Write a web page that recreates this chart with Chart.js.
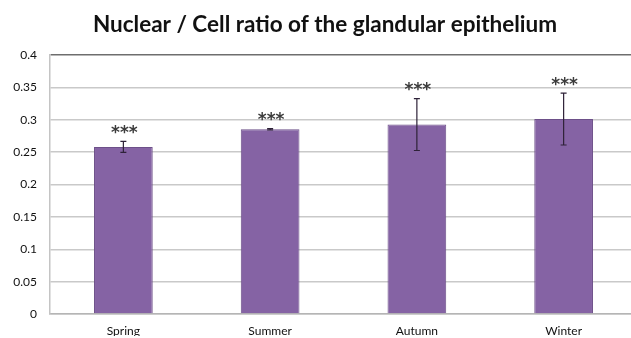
<!DOCTYPE html>
<html>
<head>
<meta charset="utf-8">
<script src="https://cdn.jsdelivr.net/npm/chart.js@4/dist/chart.umd.min.js"></script>
<style>
  html, body { margin: 0; padding: 0; background: #fff; overflow: hidden; }
  #wrap { position: relative; width: 658px; height: 338px; }
</style>
</head>
<body>
<div id="wrap"><canvas id="c" width="658" height="338"></canvas></div>
<script>
// Seasons and the mean nuclear/cell ratio with its error
const seasons = ['Spring', 'Summer', 'Autumn', 'Winter'];
const ratio = [0.258, 0.2855, 0.2925, 0.301];
const ratioErr = [0.0085, 0.001, 0.040, 0.040];
const significance = ['***', '***', '***', '***'];
const yTicks = [0, 0.05, 0.1, 0.15, 0.2, 0.25, 0.3, 0.35, 0.4];

// Error bars with caps, drawn on the value scale
const errorBars = {
  id: 'errorBars',
  afterDatasetsDraw(chart) {
    const { ctx, scales: { y } } = chart;
    const meta = chart.getDatasetMeta(0);
    ctx.save();
    ctx.strokeStyle = '#2e2238';
    ctx.lineWidth = 1.2;
    meta.data.forEach((bar, i) => {
      const top = y.getPixelForValue(ratio[i] + ratioErr[i]);
      const bot = y.getPixelForValue(ratio[i] - ratioErr[i]);
      const x = bar.x, cap = 3;
      ctx.beginPath();
      ctx.moveTo(x, top); ctx.lineTo(x, bot);
      ctx.moveTo(x - cap, top); ctx.lineTo(x + cap, top);
      ctx.moveTo(x - cap, bot); ctx.lineTo(x + cap, bot);
      ctx.stroke();
    });
    ctx.restore();
  }
};

// Significance markers above each error bar
const sigMarks = {
  id: 'sigMarks',
  afterDatasetsDraw(chart) {
    const { ctx, scales: { y } } = chart;
    const meta = chart.getDatasetMeta(0);
    ctx.save();
    ctx.fillStyle = '#3c3c3c';
    ctx.font = 'bold 17px "DejaVu Sans"';
    ctx.textAlign = 'center';
    ctx.textBaseline = 'middle';
    meta.data.forEach((bar, i) => {
      const top = y.getPixelForValue(ratio[i] + ratioErr[i]);
      ctx.fillText(significance[i], bar.x + 1, top - 8);
    });
    ctx.restore();
  }
};

new Chart(document.getElementById('c'), {
  type: 'bar',
  data: {
    labels: seasons,
    datasets: [{
      data: ratio,
      backgroundColor: '#8563a4',
      borderColor: '#6d5089',
      borderWidth: 1,
      barPercentage: 0.4,
      categoryPercentage: 1.0
    }]
  },
  options: {
    responsive: false,
    animation: false,
    devicePixelRatio: 1,
    layout: { padding: { left: 13, right: 21, top: 0, bottom: 2 } },
    plugins: {
      legend: { display: false },
      tooltip: { enabled: false },
      title: {
        display: true,
        text: 'Nuclear / Cell ratio of the glandular epithelium',
        color: '#111',
        font: { family: 'Lato', size: 22.5, weight: 'bold' },
        padding: { top: 11, bottom: 17 }
      }
    },
    scales: {
      x: {
        afterFit(scale) { scale.height = 22; },
        grid: { display: false, drawTicks: false },
        border: { display: true, color: '#b5b5b5', width: 1.5 },
        ticks: { color: '#111', font: { family: 'Lato', size: 12 }, padding: 10 }
      },
      y: {
        min: 0,
        max: 0.4,
        afterFit(scale) { scale.width = 37; },
        afterBuildTicks(scale) { scale.ticks = yTicks.map(v => ({ value: v })); },
        grid: {
          drawTicks: false,
          lineWidth: 1.5,
          color: ctx => (ctx.tick && ctx.tick.value === 0.4) ? '#6e6e6e' : '#c9c9c9'
        },
        border: { display: true, color: '#c4c4c4', width: 1.5 },
        ticks: {
          color: '#111',
          font: { family: 'Lato', size: 12 },
          padding: 13,
          callback: v => String(Math.round(v * 100) / 100)
        }
      }
    }
  },
  plugins: [errorBars, sigMarks]
});
</script>
</body>
</html>
